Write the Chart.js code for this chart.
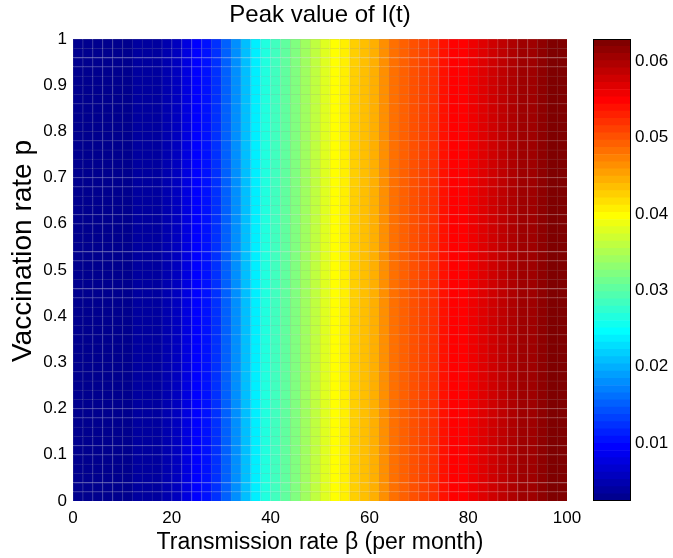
<!DOCTYPE html>
<html>
<head>
<meta charset="utf-8">
<title>Peak value of I(t)</title>
<script src="https://cdn.jsdelivr.net/npm/chart.js@4.4.1/dist/chart.umd.min.js"></script>
<style>
  html, body { margin: 0; padding: 0; background: #fff; }
  #wrap { position: relative; width: 673px; height: 558px; }
  #heat { position: absolute; left: 0; top: 0; }
  #bar { position: absolute; left: 580px; top: 0; }
</style>
</head>
<body>
<div id="wrap">
  <canvas id="heat" width="673" height="558"></canvas>
  <canvas id="bar" width="93" height="558"></canvas>
</div>
<script>
// grid cells: transmission rate (cell centres) and vaccination rate (cell lower edges)
const beta = [1, 3, 5, 7, 9, 11, 13, 15, 17, 19, 21, 23, 25, 27, 29, 31, 33, 35, 37, 39,
  41, 43, 45, 47, 49, 51, 53, 55, 57, 59, 61, 63, 65, 67, 69, 71, 73, 75, 77, 79,
  81, 83, 85, 87, 89, 91, 93, 95, 97, 99];
const vacc = [0, 0.02, 0.04, 0.06, 0.08, 0.1, 0.12, 0.14, 0.16, 0.18, 0.2, 0.22, 0.24,
  0.26, 0.28, 0.3, 0.32, 0.34, 0.36, 0.38, 0.4, 0.42, 0.44, 0.46, 0.48, 0.5, 0.52,
  0.54, 0.56, 0.58, 0.6, 0.62, 0.64, 0.66, 0.68, 0.7, 0.72, 0.74, 0.76, 0.78, 0.8,
  0.82, 0.84, 0.86, 0.88, 0.9, 0.92, 0.94, 0.96, 0.98];
const cellH = 0.02;

// peak of I(t) for each beta column (same for every p row)
const peakI = [0.0025, 0.0026, 0.0027, 0.0028, 0.0029, 0.0031, 0.0034, 0.0037, 0.0042, 0.0048,
  0.0060, 0.0076, 0.0092, 0.0105, 0.0124, 0.0148, 0.0177, 0.0210, 0.0240, 0.0263,
  0.0282, 0.0299, 0.0318, 0.0337, 0.0356, 0.0375, 0.0393, 0.0409, 0.0422, 0.0435,
  0.0449, 0.0463, 0.0478, 0.0491, 0.0503, 0.0513, 0.0524, 0.0535, 0.0544, 0.0553,
  0.0562, 0.0570, 0.0578, 0.0585, 0.0593, 0.0601, 0.0607, 0.0614, 0.0620, 0.0626];

const cMin = 0.0024;
const cMax = 0.0629;

const xTicks = [0, 20, 40, 60, 80, 100];
const yTicks = [0, 0.1, 0.2, 0.3, 0.4, 0.5, 0.6, 0.7, 0.8, 0.9, 1];
const cbTicks = [0.01, 0.02, 0.03, 0.04, 0.05, 0.06];

const titleText = 'Peak value of I(t)';
const xLabel = 'Transmission rate β (per month)';
const yLabel = 'Vaccination rate p';

const FONT = "'Liberation Sans', Arial, Helvetica, sans-serif";

// matlab style jet(64)
function jet(m) {
  const n = Math.ceil(m / 4);
  const u = [];
  for (let i = 1; i <= n; i++) u.push(i / n);
  for (let i = 1; i < n; i++) u.push(1);
  for (let i = n; i >= 1; i--) u.push(i / n);
  const g0 = Math.ceil(n / 2) - (m % 4 === 1 ? 1 : 0);
  const map = Array.from({ length: m }, () => [0, 0, 0]);
  u.forEach((val, k) => {
    const g = g0 + k + 1, r = g + n, b = g - n;
    if (r <= m) map[r - 1][0] = val;
    if (g <= m) map[g - 1][1] = val;
    if (b >= 1) map[b - 1][2] = val;
  });
  return map.map(c => c.map(x => Math.round(x * 255)));
}

const cmap = jet(64);
const rgb = c => `rgb(${c[0]},${c[1]},${c[2]})`;
const mix = (c, g, t) => c.map(x => Math.round(x * (1 - t) + g * t));

function colorIndex(v) {
  const i = Math.floor((v - cMin) / (cMax - cMin) * cmap.length);
  return Math.min(cmap.length - 1, Math.max(0, i));
}

const cellColors = peakI.map(v => rgb(cmap[colorIndex(v)]));
const edgeColors = peakI.map(v => rgb(mix(cmap[colorIndex(v)], 150, 0.22)));

// title and rotated y label, placed against the plot area
const texts = {
  id: 'texts',
  afterDraw(chart) {
    const { ctx, chartArea: a } = chart;
    ctx.save();
    ctx.fillStyle = '#000';
    ctx.textAlign = 'center';
    ctx.textBaseline = 'middle';
    ctx.font = `24px ${FONT}`;
    ctx.fillText(titleText, (a.left + a.right) / 2, 15);
    ctx.translate(23, (a.top + a.bottom) / 2 - 19);
    ctx.rotate(-Math.PI / 2);
    ctx.font = `28px ${FONT}`;
    ctx.fillText(yLabel, 0, 0);
    ctx.restore();
  }
};

new Chart(document.getElementById('heat'), {
  type: 'bar',
  data: {
    datasets: vacc.map(p => ({
      data: beta.map(b => ({ x: b, y: [p, p + cellH] })),
      backgroundColor: cellColors,
      borderColor: edgeColors,
      borderWidth: { left: 1, top: 1, right: 0, bottom: 0 },
      borderSkipped: false
    }))
  },
  options: {
    responsive: false,
    animation: false,
    layout: { padding: { left: 0, right: 106, top: 39, bottom: 0 } },
    datasets: { bar: { grouped: false, barPercentage: 1, categoryPercentage: 1 } },
    plugins: {
      legend: { display: false },
      tooltip: { enabled: false }
    },
    scales: {
      x: {
        type: 'linear',
        min: 0,
        max: 100,
        offset: false,
        grid: { display: false, drawTicks: false },
        border: { display: false },
        afterBuildTicks: s => { s.ticks = xTicks.map(v => ({ value: v })); },
        ticks: { color: '#000', font: { family: FONT, size: 17 }, padding: 7, maxRotation: 0,
          callback: v => String(v) },
        title: {
          display: true,
          text: xLabel,
          color: '#000',
          font: { family: FONT, size: 23 },
          padding: { top: 0, bottom: 2 }
        },
        afterFit: s => { s.height = 57; }
      },
      y: {
        type: 'linear',
        min: 0,
        max: 1,
        grid: { display: false, drawTicks: false },
        border: { display: false },
        afterBuildTicks: s => { s.ticks = yTicks.map(v => ({ value: v })); },
        ticks: { color: '#000', font: { family: FONT, size: 17 }, padding: 6,
          callback: v => String(v) },
        afterFit: s => { s.width = 73; }
      }
    }
  },
  plugins: [texts]
});

// colour bar
const frame = {
  id: 'frame',
  afterDraw(chart) {
    const { ctx, chartArea: a } = chart;
    ctx.save();
    ctx.strokeStyle = '#000';
    ctx.lineWidth = 1;
    ctx.strokeRect(a.left + 0.5, a.top + 0.5, a.width - 1, a.height - 1);
    ctx.restore();
  }
};

const step = (cMax - cMin) / cmap.length;

new Chart(document.getElementById('bar'), {
  type: 'bar',
  data: {
    labels: [''],
    datasets: cmap.map((c, i) => ({
      data: [[cMin + i * step, cMin + (i + 1) * step]],
      backgroundColor: rgb(c),
      borderWidth: 0
    }))
  },
  options: {
    responsive: false,
    animation: false,
    layout: { padding: { left: 13, right: 0, top: 39, bottom: 57 } },
    datasets: { bar: { grouped: false, barPercentage: 1, categoryPercentage: 1 } },
    plugins: { legend: { display: false }, tooltip: { enabled: false } },
    scales: {
      x: { display: false },
      y: {
        position: 'right',
        min: cMin,
        max: cMax,
        z: 1,
        afterBuildTicks: s => { s.ticks = cbTicks.map(v => ({ value: v })); },
        grid: { drawTicks: false, color: '#000', lineWidth: 1 },
        border: { display: false, dash: [4, 30] },
        ticks: { color: '#000', font: { family: FONT, size: 17 }, padding: 4 },
        afterFit: s => { s.width = 42; }
      }
    }
  },
  plugins: [frame]
});
</script>
</body>
</html>
